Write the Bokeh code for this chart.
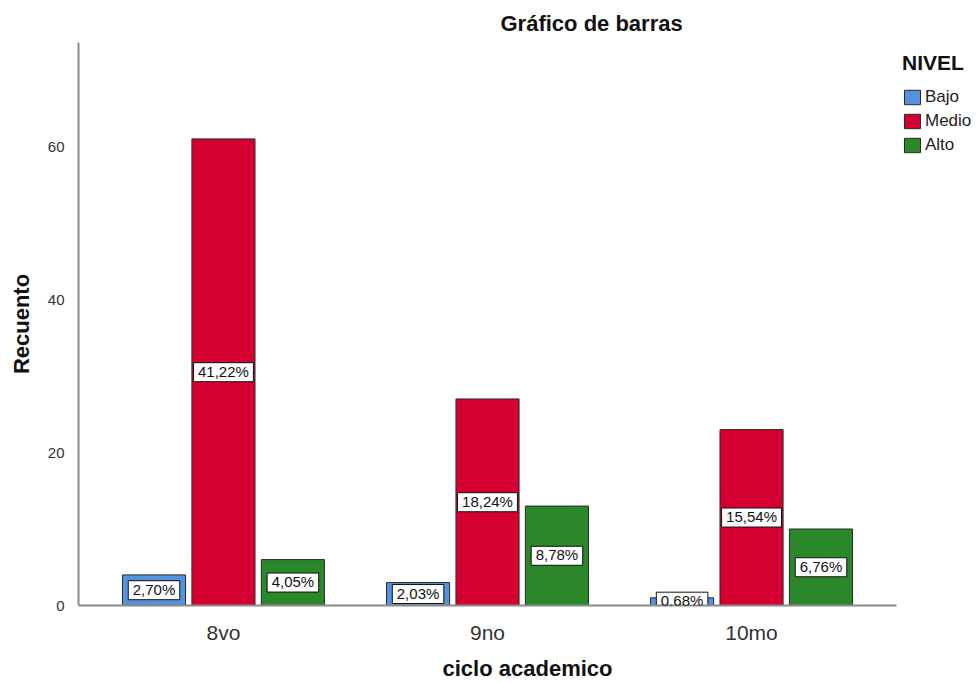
from bokeh.plotting import figure
from bokeh.models import (ColumnDataSource, Range1d, FixedTicker, LabelSet,
                          Legend, LegendItem, Title)
from bokeh.core.properties import value
from bokeh.transform import dodge
from bokeh.embed import file_html
from bokeh.resources import INLINE

ciclos = ["8vo", "9no", "10mo"]
niveles = ["Bajo", "Medio", "Alto"]
bajo = [4, 3, 1]
medio = [61, 27, 23]
alto = [6, 13, 10]
colors = {"Bajo": "#5592dd", "Medio": "#d50032", "Alto": "#2a872a"}
y_ticks = [0, 20, 40, 60]

series = {"Bajo": bajo, "Medio": medio, "Alto": alto}
total = sum(bajo) + sum(medio) + sum(alto)
pos = list(range(1, len(ciclos) + 1))  # category slots on the x scale

FONT = "Liberation Sans"
LABEL_PX = 15
# approximate Arial advance widths (em) used to size the label boxes
CHAR_EM = {",": 0.278, "%": 0.889}


def box_width(s):
    return sum(CHAR_EM.get(c, 0.556) for c in s) * LABEL_PX + 9


pad = 0.549
p = figure(width=976, height=683, output_backend="svg", toolbar_location=None,
           x_range=Range1d(pos[0] - pad, pos[-1] + pad + 0.303),
           y_range=Range1d(0, 73.6),
           min_border_left=78, min_border_right=0, min_border_top=42, min_border_bottom=77)

p.title = Title(text="Gráfico de barras", text_font=FONT, text_font_size="22px",
                text_font_style="bold", align="left", offset=422, standoff=14,
                text_color="#111111")

offsets = {"Bajo": -0.263, "Medio": 0.0, "Alto": 0.263}
renderers = {}
for nv in niveles:
    vals = series[nv]
    pct = [f"{v / total * 100:.2f}".replace(".", ",") + "%" for v in vals]
    src = ColumnDataSource(dict(
        pos=pos, val=vals, mid=[v / 2 for v in vals], pct=pct,
        bw=[box_width(s) for s in pct]))
    xd = dodge("pos", offsets[nv])
    r = p.vbar(x=xd, top="val", width=0.239,
               source=src, fill_color=colors[nv], line_color="#2a2a2a", line_width=1)
    renderers[nv] = r
    p.rect(x=xd, y="mid", width="bw", height=19, width_units="screen", height_units="screen",
           source=src, fill_color="white", line_color="#111111", line_width=1)
    labels = LabelSet(x=xd, y="mid", text="pct", y_offset=1,
                      source=src, text_align="center", text_baseline="middle",
                      text_font=value(FONT), text_font_size=value(f"{LABEL_PX}px"),
                      text_color="#111111")
    p.add_layout(labels)

legend = Legend(items=[LegendItem(label=nv, renderers=[renderers[nv]]) for nv in niveles],
                location=(824, 450), title="NIVEL", title_text_font=FONT,
                title_text_font_size="21px", title_text_font_style="bold",
                title_text_color="#111111",
                title_standoff=12, label_text_font=FONT, label_text_font_size="17px",
                label_text_color="#222222", glyph_width=20, glyph_height=18,
                label_height=18, spacing=4, padding=0, margin=0, label_standoff=3,
                border_line_color=None, background_fill_alpha=0)
p.add_layout(legend)

p.xgrid.grid_line_color = None
p.ygrid.grid_line_color = None
p.outline_line_color = None

p.xaxis.ticker = FixedTicker(ticks=pos)
p.xaxis.major_label_overrides = {k: c for k, c in zip(pos, ciclos)}
p.xaxis.bounds = (pos[0] - pad, pos[-1] + pad)
p.yaxis.ticker = FixedTicker(ticks=y_ticks)
for ax in (p.xaxis[0], p.yaxis[0]):
    ax.axis_line_color = "#8a8a8a"
    ax.axis_line_width = 2
    ax.major_tick_line_color = None
    ax.minor_tick_line_color = None
    ax.axis_label_text_font = FONT
    ax.axis_label_text_font_style = "bold"
    ax.axis_label_text_font_size = "22px"
    ax.axis_label_text_color = "#111111"
    ax.major_label_text_font = FONT
    ax.major_label_text_color = "#333333"

p.yaxis.axis_label = "Recuento"
p.yaxis.major_label_text_font_size = "15px"
p.yaxis.major_label_standoff = 8
p.yaxis.axis_label_standoff = 11
p.xaxis.axis_label = "ciclo academico"
p.xaxis.major_label_text_font_size = "21px"
p.xaxis.major_label_standoff = 9
p.xaxis.axis_label_standoff = 9

open("out.html", "w").write(file_html(p, INLINE))
